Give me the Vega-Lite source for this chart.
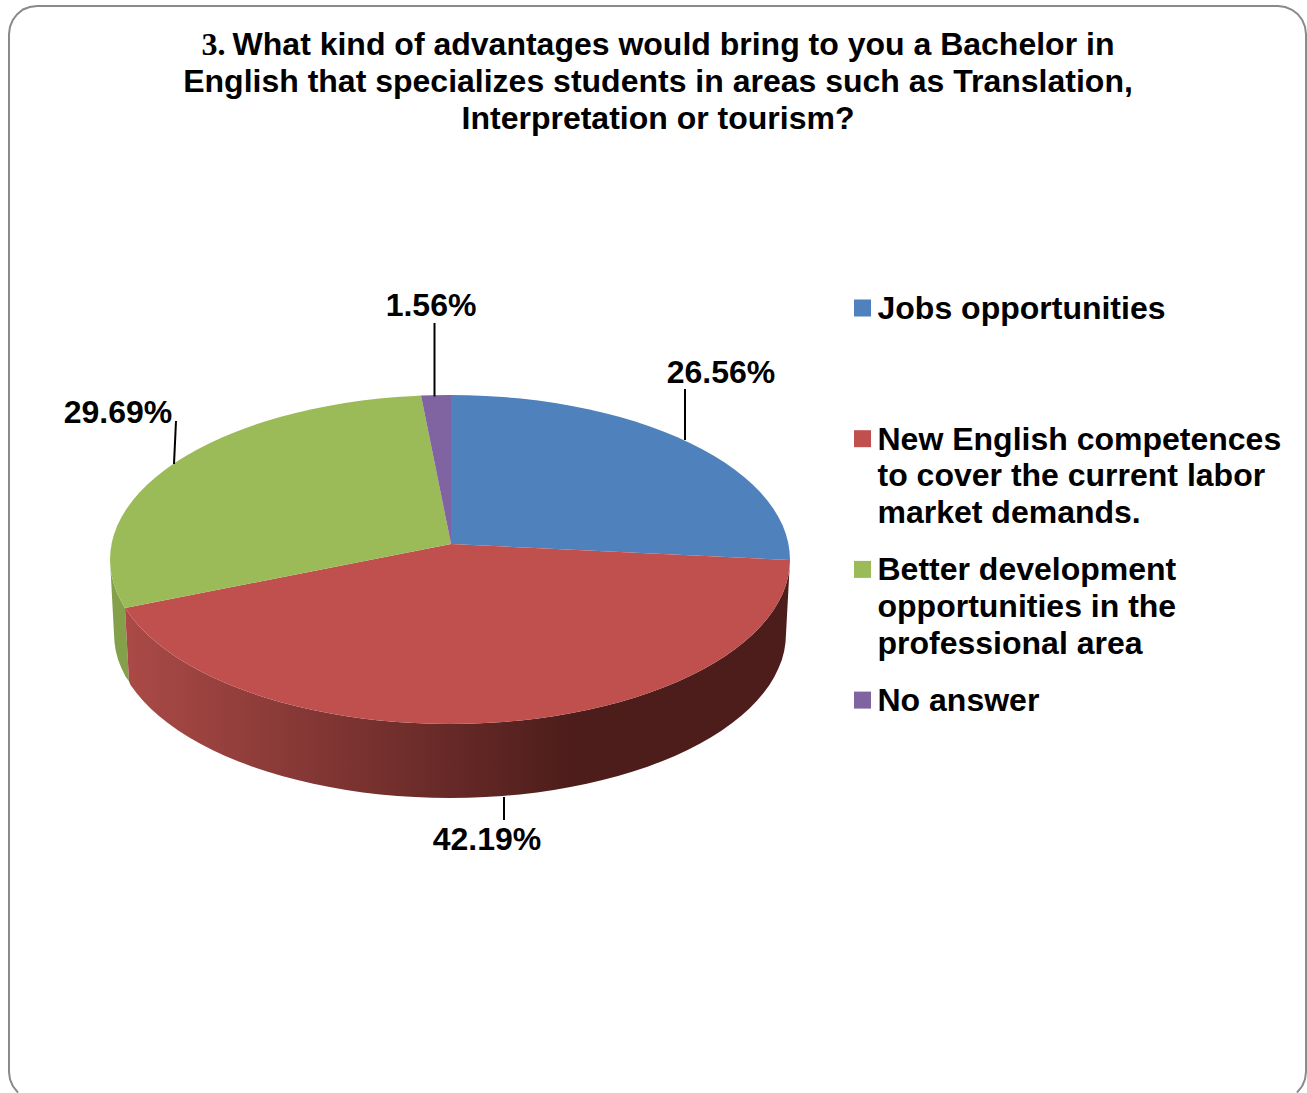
{
  "$schema": "https://vega.github.io/schema/vega-lite/v6.json",
  "width": 1307,
  "height": 1093,
  "padding": 0,
  "autosize": "none",
  "background": "white",
  "config": {"view": {"stroke": null}},
  "projection": {"type": "identity", "reflectY": true, "scale": 1, "translate": [450, 559.5]},
  "datasets": {
    "slices": [
      {"type": "Feature", "properties": {"answer": "Jobs opportunities", "share": 0.2656}, "geometry": {"type": "Polygon", "coordinates": [[[1,15.5],[1,164.5],[17.8,164.3],[35.5,163.6],[53.2,162.5],[70.7,160.9],[88,158.9],[105.1,156.5],[121.9,153.6],[138.3,150.3],[154.4,146.6],[170,142.5],[185.2,138],[199.9,133.1],[214,127.8],[227.5,122.2],[240.4,116.3],[252.7,110.1],[264.2,103.5],[275.1,96.7],[285.2,89.6],[294.4,82.3],[302.9,74.7],[310.6,66.9],[317.4,59],[323.4,50.8],[328.4,42.6],[332.6,34.2],[335.8,25.7],[338.1,17.2],[339.5,8.6],[340,-0.5],[1,15.5]]]}},
      {"type": "Feature", "properties": {"answer": "New English competences to cover the current labor market demands.", "share": 0.4219}, "geometry": {"type": "Polygon", "coordinates": [[[1,15.5],[340,-0.5],[339.5,-8.6],[338.1,-17.2],[335.8,-25.7],[332.6,-34.2],[328.4,-42.6],[323.4,-50.8],[317.4,-59],[310.6,-66.9],[302.9,-74.7],[294.4,-82.3],[285.2,-89.6],[275.1,-96.7],[264.2,-103.5],[252.7,-110.1],[240.4,-116.3],[227.5,-122.2],[214,-127.8],[199.9,-133.1],[185.2,-138],[170,-142.5],[154.4,-146.6],[138.3,-150.3],[121.9,-153.6],[105.1,-156.5],[88,-158.9],[70.7,-160.9],[53.2,-162.5],[35.5,-163.6],[17.8,-164.3],[0,-164.5],[-17.8,-164.3],[-35.5,-163.6],[-53.2,-162.5],[-70.7,-160.9],[-88,-158.9],[-105.1,-156.5],[-121.9,-153.6],[-138.3,-150.3],[-154.4,-146.6],[-170,-142.5],[-185.2,-138],[-199.9,-133.1],[-214,-127.8],[-227.5,-122.2],[-240.4,-116.3],[-252.7,-110.1],[-264.2,-103.5],[-275.1,-96.7],[-285.2,-89.6],[-294.4,-82.3],[-302.9,-74.7],[-310.6,-66.9],[-317.4,-59],[-323.4,-50.8],[-325,-48.5],[1,15.5]]]}},
      {"type": "Feature", "properties": {"answer": "Better development opportunities in the professional area", "share": 0.2969}, "geometry": {"type": "Polygon", "coordinates": [[[1,15.5],[-325,-48.5],[-328.4,-42.6],[-332.6,-34.2],[-335.8,-25.7],[-338.1,-17.2],[-339.5,-8.6],[-340,0],[-339.5,8.6],[-338.1,17.2],[-335.8,25.7],[-332.6,34.2],[-328.4,42.6],[-323.4,50.8],[-317.4,59],[-310.6,66.9],[-302.9,74.7],[-294.4,82.3],[-285.2,89.6],[-275.1,96.7],[-264.2,103.5],[-252.7,110.1],[-240.4,116.3],[-227.5,122.2],[-214,127.8],[-199.9,133.1],[-185.2,138],[-170,142.5],[-154.4,146.6],[-138.3,150.3],[-121.9,153.6],[-105.1,156.5],[-88,158.9],[-70.7,160.9],[-53.2,162.5],[-35.5,163.6],[-29,163.9],[1,15.5]]]}},
      {"type": "Feature", "properties": {"answer": "No answer", "share": 0.0156}, "geometry": {"type": "Polygon", "coordinates": [[[1,15.5],[-29,163.9],[-17.8,164.3],[0,164.5],[1,164.5],[1,15.5]]]}}
    ],
    "walls": [
      {"type": "Feature", "properties": {"answer": "New English competences"}, "geometry": {"type": "Polygon", "coordinates": [[[340,-0.5],[339.5,-8.6],[338.1,-17.2],[335.8,-25.7],[332.6,-34.2],[328.4,-42.6],[323.4,-50.8],[317.4,-59],[310.6,-66.9],[302.9,-74.7],[294.4,-82.3],[285.2,-89.6],[275.1,-96.7],[264.2,-103.5],[252.7,-110.1],[240.4,-116.3],[227.5,-122.2],[214,-127.8],[199.9,-133.1],[185.2,-138],[170,-142.5],[154.4,-146.6],[138.3,-150.3],[121.9,-153.6],[105.1,-156.5],[88,-158.9],[70.7,-160.9],[53.2,-162.5],[35.5,-163.6],[17.8,-164.3],[0,-164.5],[-17.8,-164.3],[-35.5,-163.6],[-53.2,-162.5],[-70.7,-160.9],[-88,-158.9],[-105.1,-156.5],[-121.9,-153.6],[-138.3,-150.3],[-154.4,-146.6],[-170,-142.5],[-185.2,-138],[-199.9,-133.1],[-214,-127.8],[-227.5,-122.2],[-240.4,-116.3],[-252.7,-110.1],[-264.2,-103.5],[-275.1,-96.7],[-285.2,-89.6],[-294.4,-82.3],[-302.9,-74.7],[-310.6,-66.9],[-317.4,-59],[-323.4,-50.8],[-325,-48.5],[-321,-121.7],[-319.6,-125.2],[-313.7,-133.3],[-306.9,-141.2],[-299.4,-148.9],[-291,-156.5],[-281.8,-163.8],[-271.8,-170.9],[-261.1,-177.7],[-249.7,-184.2],[-237.6,-190.5],[-224.8,-196.4],[-211.4,-201.9],[-197.5,-207.2],[-183,-212],[-168,-216.5],[-152.5,-220.6],[-136.7,-224.3],[-120.4,-227.6],[-103.8,-230.5],[-87,-232.9],[-69.9,-234.9],[-52.6,-236.5],[-35.1,-237.6],[-17.6,-238.3],[0,-238.5],[17.6,-238.3],[35.1,-237.6],[52.6,-236.5],[69.9,-234.9],[87,-232.9],[103.8,-230.5],[120.4,-227.6],[136.7,-224.3],[152.5,-220.6],[168,-216.5],[183,-212],[197.5,-207.2],[211.4,-201.9],[224.8,-196.4],[237.6,-190.5],[249.7,-184.2],[261.1,-177.7],[271.8,-170.9],[281.8,-163.8],[291,-156.5],[299.4,-148.9],[306.9,-141.2],[313.7,-133.3],[319.6,-125.2],[324.5,-117],[328.6,-108.6],[331.9,-100.2],[334.2,-91.6],[335.5,-83.1],[336,-74.5],[340,-0.5]]]}},
      {"type": "Feature", "properties": {"answer": "Better development"}, "geometry": {"type": "Polygon", "coordinates": [[[-340,0],[-339.5,-8.6],[-338.1,-17.2],[-335.8,-25.7],[-332.6,-34.2],[-328.4,-42.6],[-325,-48.5],[-321,-121.7],[-324.5,-117],[-328.6,-108.6],[-331.9,-100.2],[-334.2,-91.6],[-335.5,-83.1],[-336,-74.5],[-340,0]]]}}
    ],
    "frame": [
      {"type": "Feature", "properties": {}, "geometry": {"type": "LineString", "coordinates": [[-432,-533.1],[-437.2,-526.5],[-440,-519.8],[-441,-512.5],[-441,525.5],[-440,532.8],[-437.2,539.5],[-432.8,545.3],[-427,550],[-420.3,552.5],[-413,553.5],[828,553.5],[835.3,552.5],[842,549.7],[847.8,545.3],[852.2,539.5],[855,532.8],[856,525.5],[856,-512.5],[855,-519.8],[852.2,-526.5],[847,-533.1]]}}
    ],
    "callouts": [
      {"share": 0.2656, "labelX": 271, "labelY": 186.5, "leaderX": 235, "leaderY": 170.5, "leaderX2": 235, "leaderY2": 119.5},
      {"share": 0.4219, "labelX": 37, "labelY": -280.5, "leaderX": 54, "leaderY": -237.5, "leaderX2": 54, "leaderY2": -260.5},
      {"share": 0.2969, "labelX": -332, "labelY": 146.5, "leaderX": -274, "leaderY": 138.5, "leaderX2": -276, "leaderY2": 95.5},
      {"share": 0.0156, "labelX": -19, "labelY": 253.5, "leaderX": -15.5, "leaderY": 236.5, "leaderX2": -15.5, "leaderY2": 163}
    ],
    "numbering": [
      {"text": "3.", "x": -236.5, "y": 514.5}
    ],
    "heading": [
      {"text": "What kind of advantages would bring to you a Bachelor in", "x": 223.5, "y": 514.5},
      {"text": "English that specializes students in areas such as Translation,", "x": 208, "y": 477.5},
      {"text": "Interpretation or tourism?", "x": 208, "y": 440.5}
    ]
  },
  "layer": [
    {
      "data": {"name": "frame"},
      "mark": {"type": "geoshape", "filled": false, "stroke": "#8a8a8a", "strokeWidth": 2},
      "encoding": {}
    },
    {
      "data": {"name": "walls"},
      "transform": [{"filter": "datum.properties.answer == 'Better development'"}],
      "mark": {"type": "geoshape", "filled": true, "fill": "#84a04a", "stroke": null},
      "encoding": {}
    },
    {
      "data": {"name": "walls"},
      "transform": [{"filter": "datum.properties.answer == 'New English competences'"}],
      "mark": {
        "type": "geoshape",
        "filled": true,
        "stroke": null,
        "fill": {
          "gradient": "linear",
          "x1": 0, "y1": 0, "x2": 1, "y2": 0,
          "stops": [
            {"offset": 0, "color": "#ab4a47"},
            {"offset": 0.67, "color": "#4d1d1b"},
            {"offset": 1, "color": "#4d1d1b"}
          ]
        }
      },
      "encoding": {}
    },
    {
      "data": {"name": "slices"},
      "mark": {"type": "geoshape", "filled": true, "stroke": null},
      "encoding": {
        "color": {
          "field": "properties.answer",
          "type": "nominal",
          "scale": {
            "domain": [
              "Jobs opportunities",
              "New English competences to cover the current labor market demands.",
              "Better development opportunities in the professional area",
              "No answer"
            ],
            "range": ["#4f81bd", "#c0504d", "#9bbb59", "#8064a2"]
          },
          "legend": {
            "title": null,
            "orient": "none",
            "legendX": 846.5,
            "legendY": 292,
            "symbolType": "square",
            "symbolSize": 289,
            "symbolStrokeWidth": 0,
            "symbolOpacity": 1,
            "labelFont": "Liberation Sans",
            "labelFontSize": 32,
            "labelFontWeight": "bold",
            "labelColor": "#000000",
            "labelOffset": -1,
            "labelLimit": 600,
            "labelBaseline": "top",
            "rowPadding": 23.7,
            "labelExpr": "datum.label == 'Jobs opportunities' ? ['Jobs opportunities', ' ', ' '] : datum.label == 'No answer' ? 'No answer' : datum.label == 'Better development opportunities in the professional area' ? ['Better development', 'opportunities in the', 'professional area'] : ['New English competences', 'to cover the current labor', 'market demands.']",
            "encoding": {"labels": {"lineHeight": {"value": 36.7}, "dy": {"value": -14}}}
          }
        }
      }
    },
    {
      "data": {"name": "callouts"},
      "mark": {"type": "rule", "color": "#000000", "strokeWidth": 2},
      "encoding": {
        "longitude": {"field": "leaderX", "type": "quantitative"},
        "latitude": {"field": "leaderY", "type": "quantitative"},
        "longitude2": {"field": "leaderX2"},
        "latitude2": {"field": "leaderY2"}
      }
    },
    {
      "data": {"name": "callouts"},
      "mark": {"type": "text", "font": "Liberation Sans", "fontSize": 32, "fontWeight": "bold", "color": "#000000", "align": "center", "baseline": "middle"},
      "encoding": {
        "longitude": {"field": "labelX", "type": "quantitative"},
        "latitude": {"field": "labelY", "type": "quantitative"},
        "text": {"field": "share", "type": "quantitative", "format": ".2%"}
      }
    },
    {
      "data": {"name": "numbering"},
      "mark": {"type": "text", "font": "Liberation Serif", "fontSize": 32, "fontWeight": "bold", "color": "#000000", "align": "center", "baseline": "middle"},
      "encoding": {
        "longitude": {"field": "x", "type": "quantitative"},
        "latitude": {"field": "y", "type": "quantitative"},
        "text": {"field": "text", "type": "nominal"}
      }
    },
    {
      "data": {"name": "heading"},
      "mark": {"type": "text", "font": "Liberation Sans", "fontSize": 32, "fontWeight": "bold", "color": "#000000", "align": "center", "baseline": "middle"},
      "encoding": {
        "longitude": {"field": "x", "type": "quantitative"},
        "latitude": {"field": "y", "type": "quantitative"},
        "text": {"field": "text", "type": "nominal"}
      }
    }
  ]
}
